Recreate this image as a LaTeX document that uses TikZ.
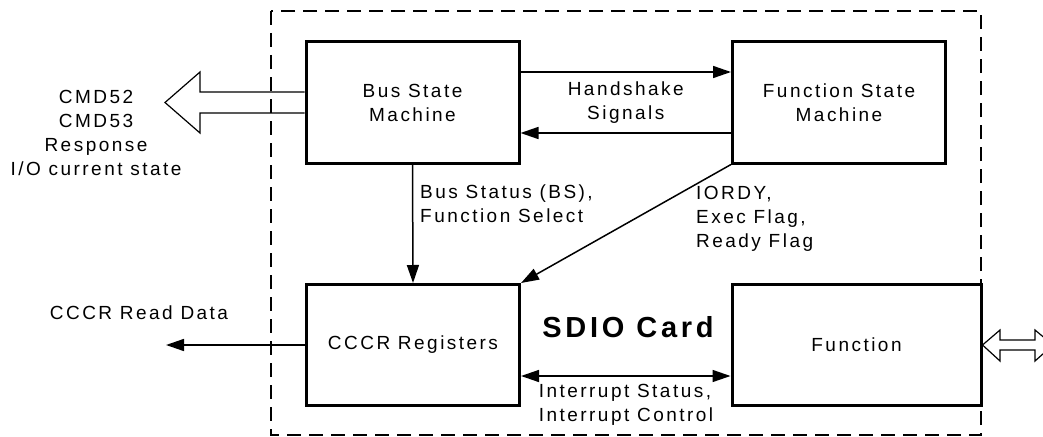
\documentclass[tikz,border=0pt]{standalone}
\usepackage{fontspec}
\setmainfont{Liberation Sans}[LetterSpace=13]
\usetikzlibrary{positioning,calc,arrows.meta}

\begin{document}
\begin{tikzpicture}[x=1pt,y=-1pt,
    blk/.style={draw, line width=3pt, minimum width=213, minimum height=121, inner sep=0pt, align=center, font=\fontsize{19}{24}\selectfont},
    txt/.style={font=\fontsize{19}{24}\selectfont, inner sep=0pt},
    sig/.style={line width=1.5pt, -{Triangle[length=18pt,width=12pt]}},
    hollow/.style={line width=1.2pt, line join=miter}]
    \useasboundingbox (0,0) rectangle (1043,436);

    % Card outline
    \draw[line width=2pt, dash pattern=on 14pt off 8pt] (271,11) rectangle (981,435);

    % Blocks
    \node[blk] (bsm) at (412.5,102.5) {Bus State\\Machine};
    \node[blk] (fsm) at (839,102.5) {Function State\\Machine};
    \node[blk] (cccr) at (413,345) {CCCR Registers};
    \node[blk, minimum width=249] (func) at (856.5,345) {Function};
    \node[font=\fontsize{29}{36}\selectfont\bfseries, inner sep=0pt] (card) at (628,327) {SDIO Card};

    % Handshake
    \draw[sig] ([yshift=30.5pt]bsm.east) -- ([yshift=30.5pt]fsm.west);
    \draw[sig] ([yshift=-30.5pt]fsm.west) -- ([yshift=-30.5pt]bsm.east);
    \node[txt, align=center] (hs) at ($(bsm.east)!0.5!(fsm.west)$) {Handshake\\Signals};

    % Status and flags
    \draw[sig] (bsm.south) -- (cccr.north);
    \node[txt, align=left, anchor=west] (bs) at (420,204) {Bus Status (BS),\\Function Select};
    \draw[sig] (fsm.south west) -- (cccr.north east);
    \node[txt, align=left, anchor=west] (flags) at (696,219) {IORDY,\\Exec Flag,\\Ready Flag};

    % Interrupts
    \draw[sig, {Triangle[length=18pt,width=12pt]}-{Triangle[length=18pt,width=12pt]}] ([yshift=-31pt]cccr.east) -- ([yshift=-31pt]func.west);
    \node[txt, align=left] (irq) at (626,405) {Interrupt Status,\\Interrupt Control};

    % Read data out
    \coordinate (rdend) at (166,345);
    \draw[sig] (cccr.west) -- (rdend);
    \node[txt] (rd) at (139,313) {CCCR Read Data};

    % Command bus
    \coordinate (cmdtip) at (165,102.5);
    \draw[hollow] (bsm.west |- 0,92) -- (200,92) -- (200,72) -- (cmdtip) -- (200,133) -- (200,113) -- (bsm.west |- 0,113);
    \node[txt, align=center] (cmd) at (96,133) {CMD52\\CMD53\\Response\\I/O current state};

    % Function bus
    \draw[hollow] (func.east) -- (1000,330) -- (1000,340) -- (1035,340) -- (1035,330) -- (1053,345)
        -- (1035,361) -- (1035,350) -- (1000,350) -- (1000,361) -- cycle;
\end{tikzpicture}
\end{document}
